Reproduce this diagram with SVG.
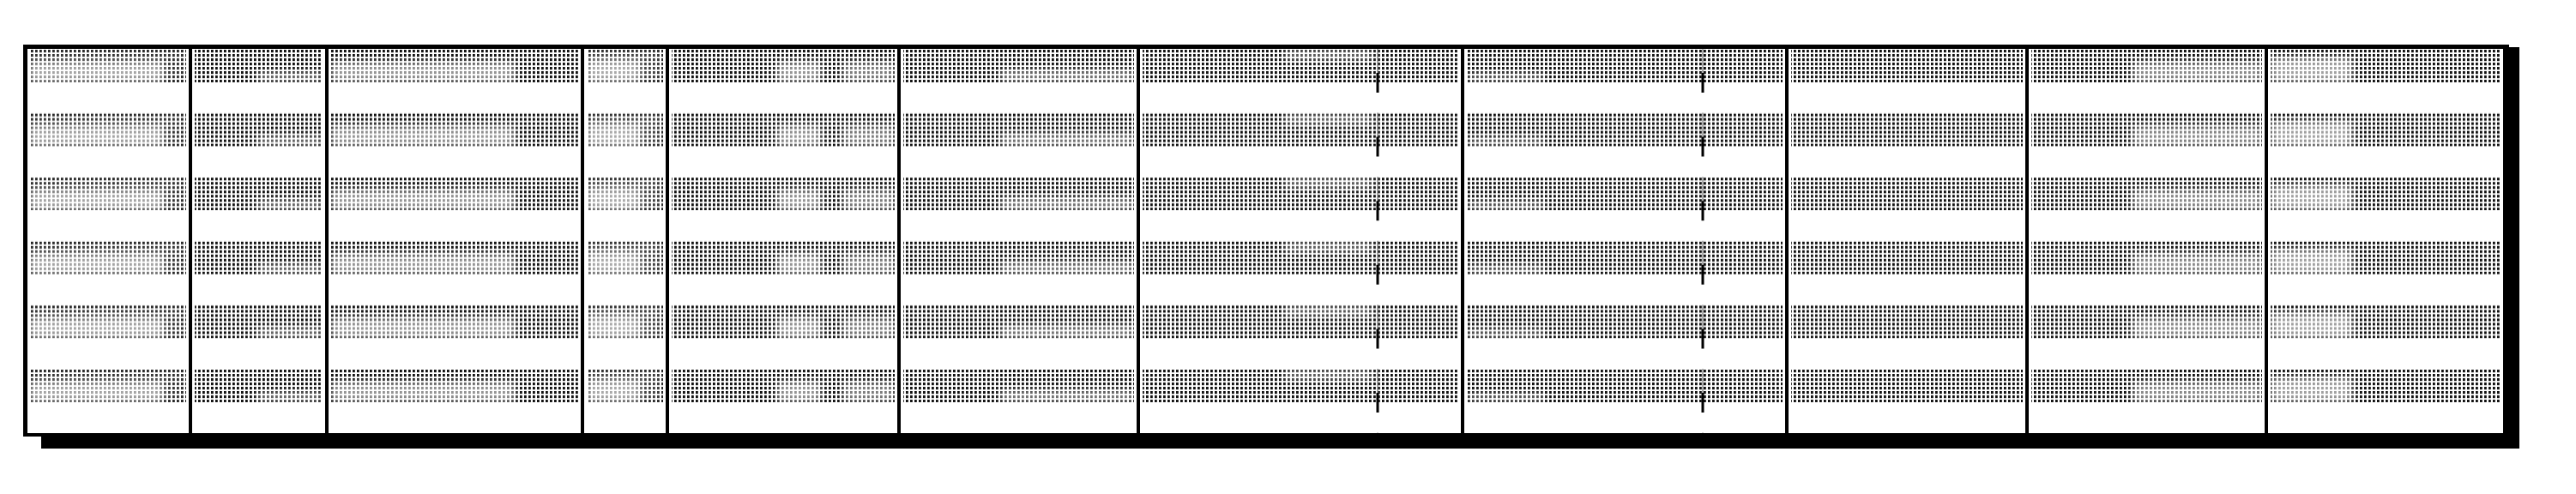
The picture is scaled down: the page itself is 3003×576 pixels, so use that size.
<svg xmlns="http://www.w3.org/2000/svg" xmlns:xlink="http://www.w3.org/1999/xlink" width="3003" height="576" viewBox="0 0 3003 576">
<style>
.band{fill:url(#dots)}
.fade{fill:#fff;filter:url(#soft)}
.div{stroke:#000;stroke-width:4;fill:none}
.frame{fill:#000}
</style>
<defs>
<filter id="soft" x="-20%" y="-50%" width="140%" height="200%">
<feGaussianBlur stdDeviation="4"/>
</filter>
<pattern id="dots" patternUnits="userSpaceOnUse" width="5" height="5">
<rect width="5" height="5" fill="#fff"/>
<rect x="1" y="1" width="2.8" height="3.2" fill="#111"/>
</pattern>
<g id="row">
<rect class="band" x="34" y="0" width="183" height="39"/>
<rect class="band" x="227" y="0" width="149" height="39"/>
<rect class="band" x="386" y="0" width="288" height="39"/>
<rect class="band" x="684" y="0" width="89" height="39"/>
<rect class="band" x="783" y="0" width="260" height="39"/>
<rect class="band" x="1053" y="0" width="269" height="39"/>
<rect class="band" x="1332" y="0" width="368" height="39"/>
<rect class="band" x="1710" y="0" width="368" height="39"/>
<rect class="band" x="2088" y="0" width="270" height="39"/>
<rect class="band" x="2368" y="0" width="269" height="39"/>
<rect class="band" x="2647" y="0" width="268" height="39"/>
<rect class="fade" x="34" y="0" width="183" height="39" opacity="0.15"/>
<rect class="fade" x="34" y="15" width="156" height="24" opacity="0.55"/>
<rect class="fade" x="300" y="26" width="76" height="13" opacity="0.4"/>
<rect class="fade" x="386" y="15" width="214" height="24" opacity="0.55"/>
<rect class="fade" x="684" y="0" width="89" height="39" opacity="0.2"/>
<rect class="fade" x="684" y="13" width="62" height="26" opacity="0.55"/>
<rect class="fade" x="906" y="15" width="51" height="24" opacity="0.55"/>
<rect class="fade" x="982" y="15" width="61" height="24" opacity="0.45"/>
<rect class="fade" x="1166" y="24" width="156" height="15" opacity="0.45"/>
<rect class="fade" x="1497" y="0" width="103" height="14" opacity="0.35"/>
<rect class="fade" x="1710" y="28" width="90" height="11" opacity="0.35"/>
<rect class="fade" x="2486" y="15" width="151" height="24" opacity="0.5"/>
<rect class="fade" x="2647" y="10" width="95" height="29" opacity="0.6"/>
</g>
</defs>
<rect width="3003" height="576" fill="#fff"/>
<g id="bands">
<use xlink:href="#row" y="57"/>
<use xlink:href="#row" y="131.6"/>
<use xlink:href="#row" y="206.2"/>
<use xlink:href="#row" y="280.8"/>
<use xlink:href="#row" y="355.4"/>
<use xlink:href="#row" y="430"/>
</g>
<g id="frame">
<rect class="frame" x="27" y="52" width="2898" height="5"/>
<rect class="frame" x="27" y="52" width="5" height="457"/>
<rect class="frame" x="27" y="505" width="25" height="4"/>
<rect class="frame" x="48" y="505" width="2889" height="18"/>
<rect class="frame" x="2918" y="55" width="19" height="468"/>
</g>
<g id="dividers">
<line class="div" x1="222" y1="55" x2="222" y2="506"/>
<line class="div" x1="381" y1="55" x2="381" y2="506"/>
<line class="div" x1="679" y1="55" x2="679" y2="506"/>
<line class="div" x1="778" y1="55" x2="778" y2="506"/>
<line class="div" x1="1048" y1="55" x2="1048" y2="506"/>
<line class="div" x1="1327" y1="55" x2="1327" y2="506"/>
<line class="div" x1="1705" y1="55" x2="1705" y2="506"/>
<line class="div" x1="2083" y1="55" x2="2083" y2="506"/>
<line class="div" x1="2363" y1="55" x2="2363" y2="506"/>
<line class="div" x1="2642" y1="55" x2="2642" y2="506"/>
</g>
<g id="dashes">
<line x1="1606" y1="57" x2="1606" y2="505" stroke="#777" stroke-width="2" stroke-dasharray="28 46.6" opacity="0.6"/>
<line x1="1606" y1="57" x2="1606" y2="505" stroke="#000" stroke-width="3" stroke-dasharray="0 28 23 23.6"/>
<line x1="1985" y1="57" x2="1985" y2="505" stroke="#777" stroke-width="2" stroke-dasharray="28 46.6" opacity="0.6"/>
<line x1="1985" y1="57" x2="1985" y2="505" stroke="#000" stroke-width="3" stroke-dasharray="0 28 23 23.6"/>
</g>
</svg>
